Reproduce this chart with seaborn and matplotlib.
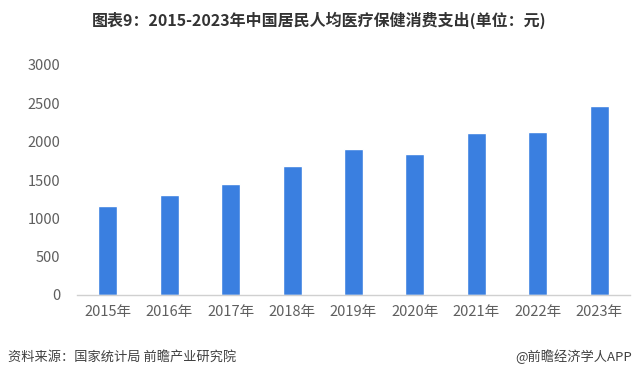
import pandas as pd
import matplotlib
matplotlib.use("Agg")
import matplotlib.pyplot as plt
import seaborn as sns

# data (元 per person)
years = ["2015年", "2016年", "2017年", "2018年", "2019年", "2020年", "2021年", "2022年", "2023年"]
spending = [1165, 1307, 1451, 1685, 1902, 1843, 2115, 2120, 2460]
y_ticks = [0, 500, 1000, 1500, 2000, 2500, 3000]

title = "图表9：2015-2023年中国居民人均医疗保健消费支出(单位：元)"
source = "资料来源：国家统计局 前瞻产业研究院"
credit = "@前瞻经济学人APP"

sns.set_theme(style="white")
plt.rcParams['font.family'] = ['Noto Sans CJK SC', 'DejaVu Sans']

df = pd.DataFrame({"year": years, "value": spending})

fig = plt.figure(figsize=(6.38, 3.8), dpi=100)
ax = fig.add_axes([77 / 638, 1 - 295 / 380, 553 / 638, 230 / 380])

sns.barplot(data=df, x="year", y="value", color="#3A7FE0", saturation=1,
            width=0.31, ax=ax)

ax.set_xlim(-0.5, 8.5)
ax.set_ylim(0, 3000)
ax.set_yticks(y_ticks)
ax.set_xlabel("")
ax.set_ylabel("")
for s in ["top", "right", "left"]:
    ax.spines[s].set_visible(False)
ax.spines["bottom"].set_color("#d0d0d0")
ax.spines["bottom"].set_linewidth(1)
ax.tick_params(axis="y", length=0, pad=12, labelsize=10.5, labelcolor="#5f5f5f")
ax.tick_params(axis="x", length=0, pad=7, labelsize=10.5, labelcolor="#5f5f5f")

fig.text(0.5, 1 - 20 / 380, title, ha="center", va="center",
         fontsize=11.5, fontweight="bold", color="#333333")
fig.text(8 / 638, 1 - 357 / 380, source, ha="left", va="center",
         fontsize=9.5, color="#404040")
fig.text(632 / 638, 1 - 357 / 380, credit, ha="right", va="center",
         fontsize=9.5, color="#404040")

fig.savefig("out.png", dpi=100)
